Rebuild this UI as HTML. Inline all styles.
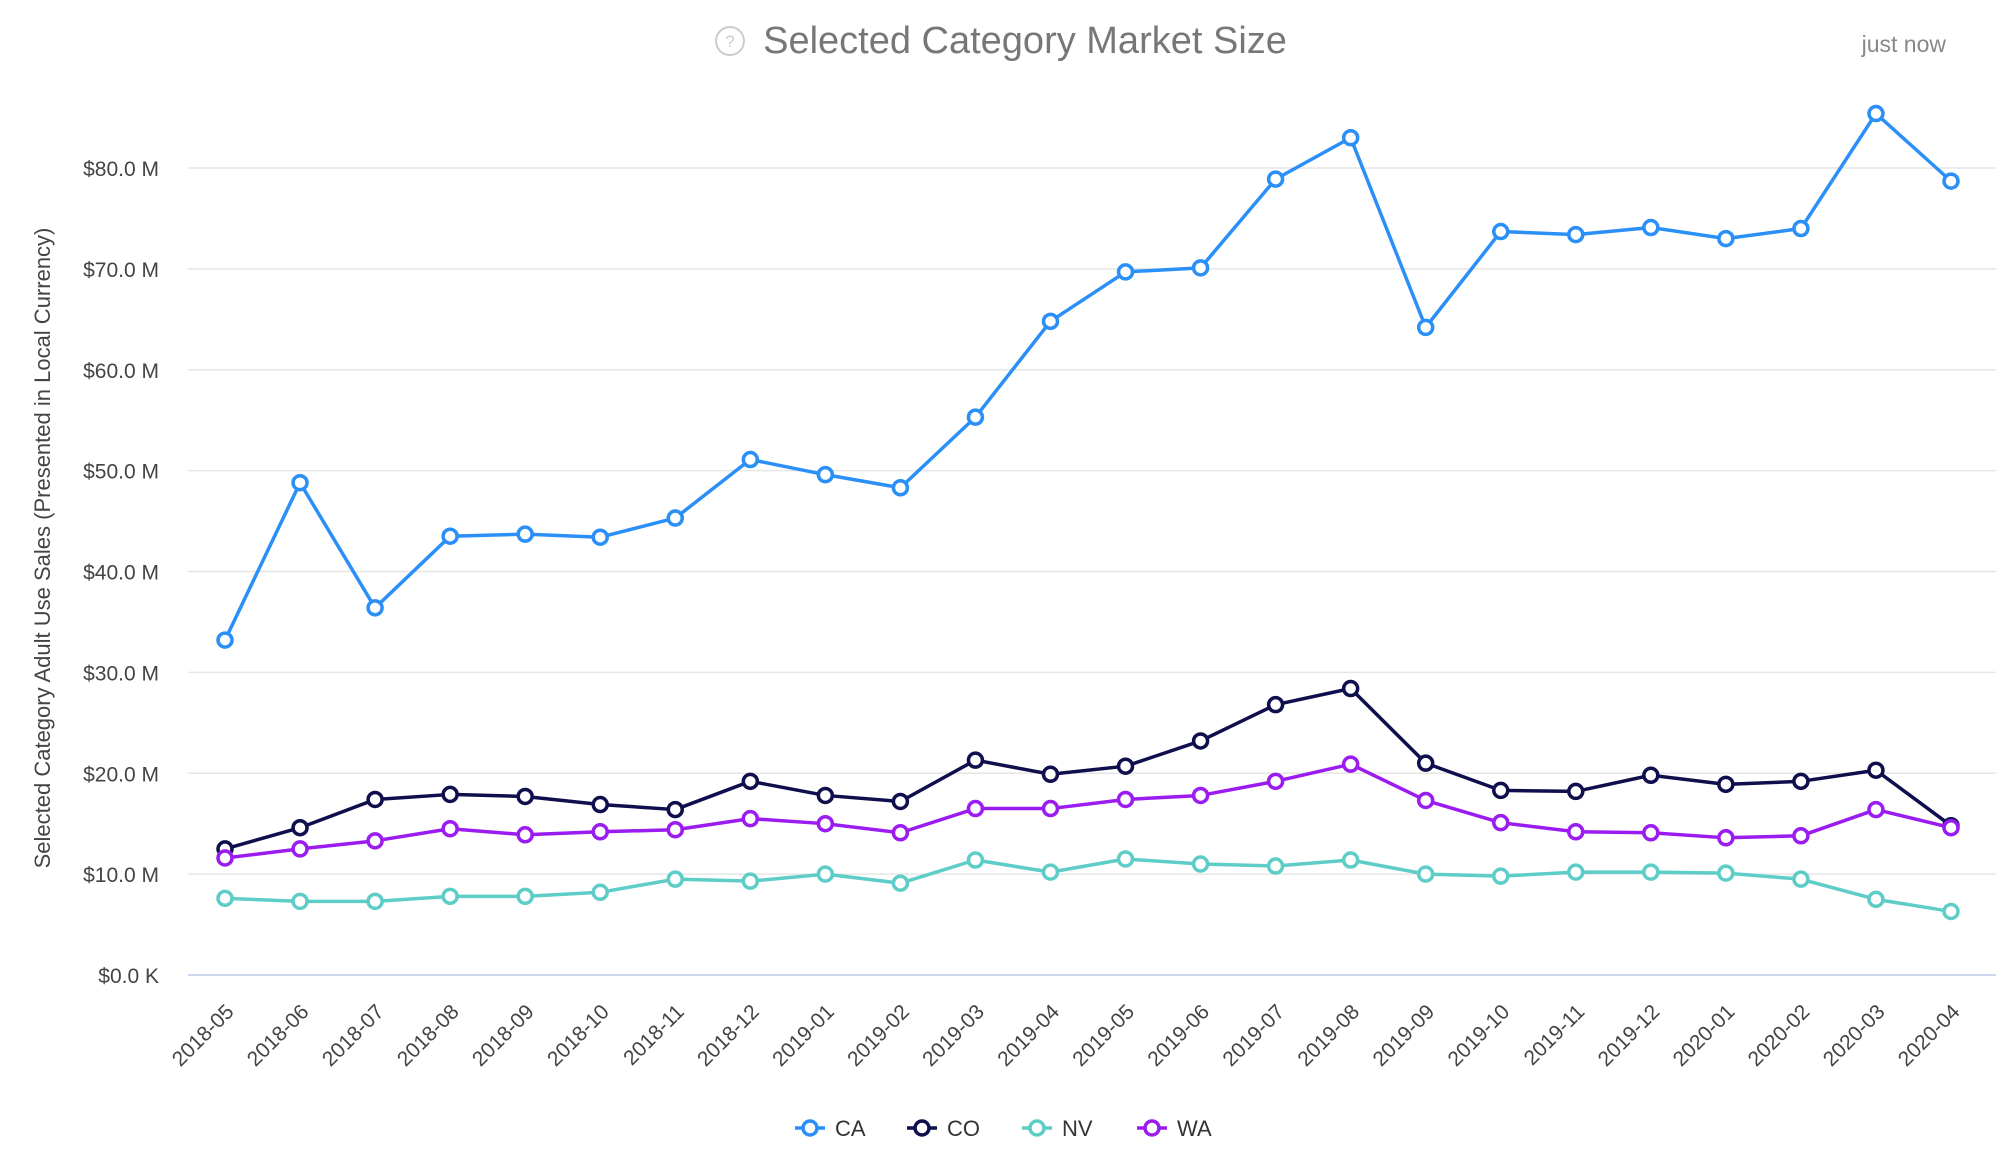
<!DOCTYPE html>
<html><head><meta charset="utf-8"><style>
body{margin:0;background:#fff;width:1996px;height:1154px;overflow:hidden;font-family:"Liberation Sans",sans-serif}
</style></head><body>
<svg id="chart" width="1996" height="1154" xmlns="http://www.w3.org/2000/svg">
<g>
<circle cx="730" cy="41" r="14" fill="none" stroke="#ccc" stroke-width="2"/>
<text x="730" y="47" text-anchor="middle" font-size="17" fill="#ccc">?</text>
<text x="1025" y="53" text-anchor="middle" font-size="38" fill="#777">Selected Category Market Size</text>
</g>
<text x="1946" y="52" text-anchor="end" font-size="23" fill="#888">just now</text>
<text transform="translate(50,548) rotate(-90)" text-anchor="middle" font-size="22" fill="#444">Selected Category Adult Use Sales (Presented in Local Currency)</text>
<g id="grid"></g><g id="xlabels"></g><g id="series"></g><g id="legend"></g>
</svg>
<script>
const categories=["2018-05","2018-06","2018-07","2018-08","2018-09","2018-10","2018-11","2018-12","2019-01","2019-02","2019-03","2019-04","2019-05","2019-06","2019-07","2019-08","2019-09","2019-10","2019-11","2019-12","2020-01","2020-02","2020-03","2020-04"];
const caValues=[33.2,48.8,36.4,43.5,43.7,43.4,45.3,51.1,49.6,48.3,55.3,64.8,69.7,70.1,78.9,83.0,64.2,73.7,73.4,74.1,73.0,74.0,85.4,78.7];
const coValues=[12.5,14.6,17.4,17.9,17.7,16.9,16.4,19.2,17.8,17.2,21.3,19.9,20.7,23.2,26.8,28.4,21.0,18.3,18.2,19.8,18.9,19.2,20.3,14.8];
const nvValues=[7.6,7.3,7.3,7.8,7.8,8.2,9.5,9.3,10.0,9.1,11.4,10.2,11.5,11.0,10.8,11.4,10.0,9.8,10.2,10.2,10.1,9.5,7.5,6.3];
const waValues=[11.6,12.5,13.3,14.5,13.9,14.2,14.4,15.5,15.0,14.1,16.5,16.5,17.4,17.8,19.2,20.9,17.3,15.1,14.2,14.1,13.6,13.8,16.4,14.6];
const yTicks=[0,10,20,30,40,50,60,70,80];
const yTickLabels=["$0.0 K","$10.0 M","$20.0 M","$30.0 M","$40.0 M","$50.0 M","$60.0 M","$70.0 M","$80.0 M"];
const seriesNames=["CA","CO","NV","WA"];
const seriesColors=["#2a8ff7","#0f0f4e","#5ecdc7","#9b1cf0"];
const NS="http://www.w3.org/2000/svg";
const X0=225,X1=1951,Y0=975,Y80=168;
function xs(i){return X0+(X1-X0)*i/(categories.length-1);}
function ys(v){return Y0-(Y0-Y80)*v/80;}
function mk(t,a,p){const e=document.createElementNS(NS,t);for(const k in a)e.setAttribute(k,a[k]);p.appendChild(e);return e;}
const grid=document.getElementById('grid');
yTicks.forEach((v,i)=>{
 const l=mk('line',{x1:188,x2:1996,y1:ys(v),y2:ys(v),stroke:v===0?'#ccd6eb':'#e6e6e6','stroke-width':v===0?2:1.5},grid);
 
 
 const t=mk('text',{x:159,y:ys(v)+8,'text-anchor':'end','font-size':21,fill:'#444'},grid);
 t.textContent=yTickLabels[i];
 
 
});
const xl=document.getElementById('xlabels');
categories.forEach((c,i)=>{
 const t=mk('text',{transform:`translate(${xs(i)+10},${1013}) rotate(-45)`,'text-anchor':'end','font-size':21,fill:'#444'},xl);
 t.textContent=c;
 
 
});
const allVals=[caValues,coValues,nvValues,waValues];
const sg=document.getElementById('series');
allVals.forEach((vals,s)=>{
 const g=mk('g',{},sg);
 
 
 const p=mk('path',{d:vals.map((v,i)=>(i?'L':'M')+xs(i)+' '+ys(v)).join(' '),fill:'none',stroke:seriesColors[s],'stroke-width':3.5,'stroke-linejoin':'round'},g);
 
 
 vals.forEach((v,i)=>{
  const c=mk('circle',{cx:xs(i),cy:ys(v),r:7,fill:'#fff',stroke:seriesColors[s],'stroke-width':3.5},g);
  
  
 });
});
const lg=document.getElementById('legend');
const lx=[810,922,1037,1152];
seriesNames.forEach((n,s)=>{
 const g=mk('g',{},lg);
 
 
 mk('line',{x1:lx[s]-15,x2:lx[s]+15,y1:1128,y2:1128,stroke:seriesColors[s],'stroke-width':3.5},g);
 mk('circle',{cx:lx[s],cy:1128,r:7,fill:'#fff',stroke:seriesColors[s],'stroke-width':3.5},g);
 const t=mk('text',{x:lx[s]+25,y:1136,'font-size':22,fill:'#333'},g);
 t.textContent=n;
});
</script>
</body></html>
